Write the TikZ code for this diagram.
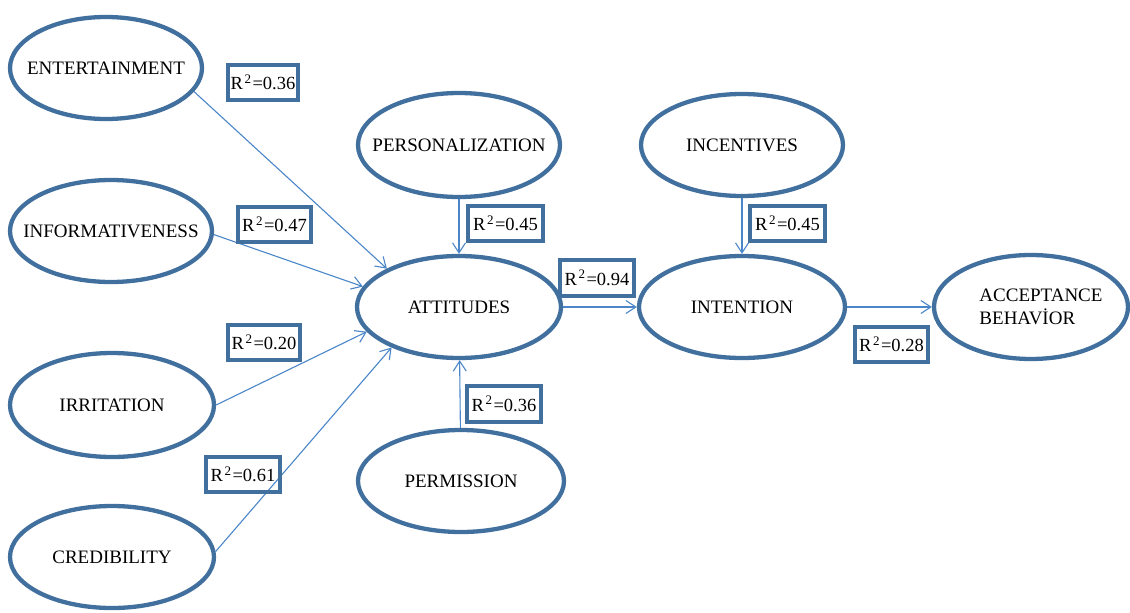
\documentclass[tikz,border=0pt]{standalone}
\usepackage{fontspec}
\setmainfont{Liberation Serif}
\usetikzlibrary{shapes.geometric,arrows.meta}
\definecolor{ebord}{HTML}{41709F}
\definecolor{arrc}{HTML}{4A86C8}
\newcommand{\rsq}[1]{R\kern1.5pt\raisebox{6.5pt}{\fontsize{13}{13}\selectfont 2}\kern1.5pt=#1}
\tikzset{
  ell/.style={ellipse,draw=ebord,line width=4.3pt,inner xsep=-45pt,inner ysep=0pt,font=\fontsize{19}{23}\selectfont},
  rbox/.style={draw=ebord,line width=4.3pt,inner sep=0pt,minimum height=35pt,font=\fontsize{18.5}{22}\selectfont},
  arr/.style={draw=arrc,line width=1.1pt,-{Straight Barb[length=10pt,width=13pt,line width=1.1pt]}}
}
\begin{document}
\begin{tikzpicture}[x=1pt,y=-1pt]
\useasboundingbox (0,0) rectangle (1130,613);
% ellipses
\node[ell,minimum width=192pt,minimum height=102pt] (ent) at (106,68) {ENTERTAINMENT};
\node[ell,minimum width=202pt,minimum height=102pt] (inf) at (111,231) {INFORMATIVENESS};
\node[ell,minimum width=204pt,minimum height=104pt] (irr) at (112,405) {IRRITATION};
\node[ell,minimum width=204pt,minimum height=102pt] (cred) at (112,557) {CREDIBILITY};
\node[ell,minimum width=202pt,minimum height=104pt] (pers) at (459,145) {PERSONALIZATION};
\node[ell,minimum width=204pt,minimum height=102pt] (att) at (459,307) {ATTITUDES};
\node[ell,minimum width=206pt,minimum height=102pt] (perm) at (461,481) {PERMISSION};
\node[ell,minimum width=202pt,minimum height=102pt] (inc) at (742,145) {INCENTIVES};
\node[ell,minimum width=206pt,minimum height=102pt] (int) at (742,307) {INTENTION};
\node[ell,minimum width=194pt,minimum height=104pt,align=left,text depth=0pt] (acc) at (1031,307) {\hspace*{20pt}ACCEPTANCE\\\hspace*{20pt}BEHAV\.{I}OR};
% connectors
\draw[arr] (ent.-15) -- (att.152);
\draw[arr] (inf.-2) -- (att.168);
\draw[arr] (irr.0) -- (att.-165);
\draw[arr] (cred.3) -- (att.-149);
\draw[arr] (pers) -- (att);
\draw[arr] (perm) -- (att);
\draw[arr] (att) -- (int);
\draw[arr] (inc) -- (int);
\draw[arr] (int) -- (acc);
% boxes
\node[rbox,minimum width=70pt] (b1) at (263,82.5) {\rsq{0.36}};
\node[rbox,minimum width=73pt] (b2) at (274.5,224.5) {\rsq{0.47}};
\node[rbox,minimum width=75pt] (b3) at (505.5,223.5) {\rsq{0.45}};
\node[rbox,minimum width=74pt,minimum height=36pt] (b4) at (597,278) {\rsq{0.94}};
\node[rbox,minimum width=75pt] (b5) at (787.5,223.5) {\rsq{0.45}};
\node[rbox,minimum width=72pt] (b6) at (264,342.5) {\rsq{0.20}};
\node[rbox,minimum width=74pt,minimum height=36pt] (b7) at (504,404) {\rsq{0.36}};
\node[rbox,minimum width=74pt] (b8) at (243,474.5) {\rsq{0.61}};
\node[rbox,minimum width=73pt] (b9) at (891.5,344.5) {\rsq{0.28}};
\end{tikzpicture}
\end{document}
